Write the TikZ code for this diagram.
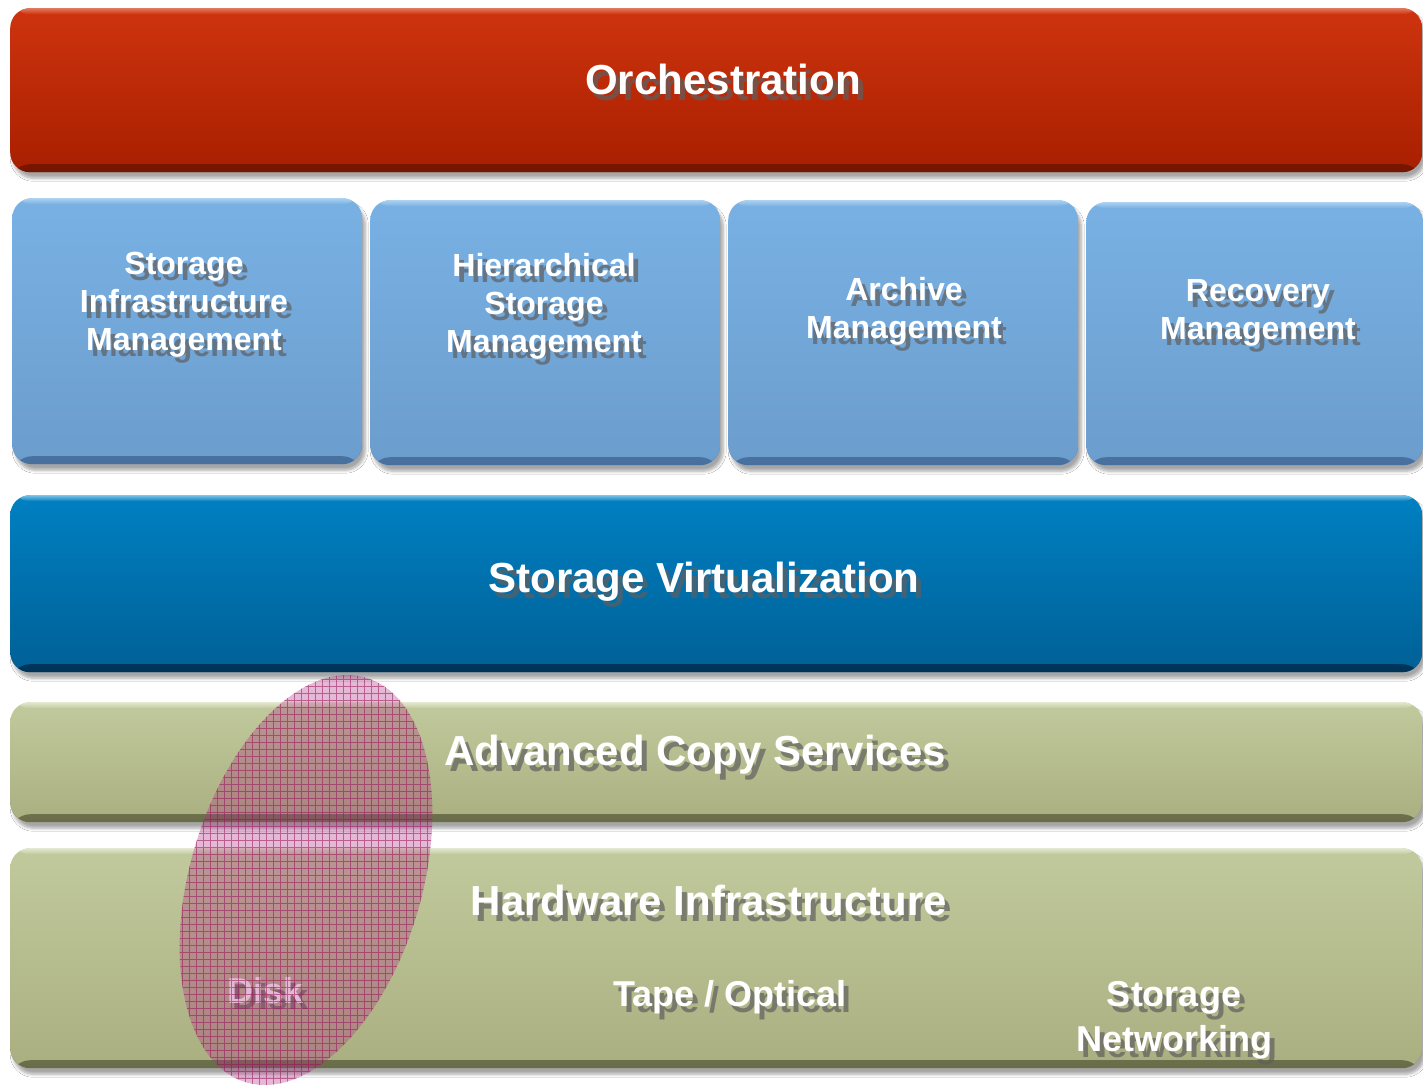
\documentclass[tikz,border=0pt]{standalone}
\usepackage{fontspec}
\setmainfont{Liberation Sans}
\usetikzlibrary{shapes.geometric,shadows.blur}

\definecolor{redT}{RGB}{206,52,14}
\definecolor{redB}{RGB}{168,31,0}
\definecolor{redR}{RGB}{115,22,0}
\definecolor{redH}{RGB}{225,120,95}
\definecolor{lbT}{RGB}{121,177,228}
\definecolor{lbB}{RGB}{107,157,205}
\definecolor{lbR}{RGB}{72,112,158}
\definecolor{lbH}{RGB}{170,210,240}
\definecolor{dbT}{RGB}{0,128,194}
\definecolor{dbB}{RGB}{0,96,150}
\definecolor{dbR}{RGB}{0,52,88}
\definecolor{dbH}{RGB}{125,195,232}
\definecolor{grT}{RGB}{193,202,157}
\definecolor{grB}{RGB}{170,175,128}
\definecolor{grR}{RGB}{105,108,72}
\definecolor{grH}{RGB}{228,232,208}
\definecolor{diskc}{RGB}{178,45,130}
\definecolor{gridc}{RGB}{150,20,90}
\definecolor{tshadow}{RGB}{95,95,95}

\tikzset{
  glossy/.style n args={4}{rectangle, rounded corners=20pt, inner sep=0pt,
    anchor=north west, top color=#1, bottom color=#2,
    blur shadow={shadow xshift=3pt, shadow yshift=-6pt, shadow blur radius=3pt,
      shadow blur steps=6, shadow opacity=35},
    path picture={
      \shade[top color=#2, bottom color=#3]
        ([yshift=8pt]path picture bounding box.south west) rectangle
        (path picture bounding box.south east);
      \shade[top color=#4, bottom color=#1]
        (path picture bounding box.north west) rectangle
        ([yshift=-6pt]path picture bounding box.north east);
    }},
  bigtxt/.style={text=white, font=\fontsize{42}{50}\selectfont\bfseries, inner sep=0pt},
  midtxt/.style={text=white, font=\fontsize{32}{38}\selectfont\bfseries, inner sep=0pt, align=center},
  hwtxt/.style={text=white, font=\fontsize{36}{45}\selectfont\bfseries, inner sep=0pt, align=center},
}

\newcommand\shadowed[4]{%
  \node[#3, text=tshadow, text opacity=0.7] at ([xshift=5pt,yshift=-6pt]#2) {#4};
  \node[#3] (#1) at (#2) {#4};}

\begin{document}
\begin{tikzpicture}[x=1pt,y=-1pt]
\useasboundingbox (0,0) rectangle (1423,1084);
\fill[white] (0,0) rectangle (1423,1084);
\clip (0,0) rectangle (1423,1084);

% bars and boxes
\node[glossy={redT}{redB}{redR}{redH}, minimum width=1412pt, minimum height=164pt] (orch) at (10,8) {};
\node[glossy={lbT}{lbB}{lbR}{lbH}, minimum width=350pt, minimum height=266pt] (sim) at (12,198) {};
\node[glossy={lbT}{lbB}{lbR}{lbH}, minimum width=350pt, minimum height=265pt] (hsm) at (370,200) {};
\node[glossy={lbT}{lbB}{lbR}{lbH}, minimum width=350pt, minimum height=265pt] (arch) at (728,200) {};
\node[glossy={lbT}{lbB}{lbR}{lbH}, minimum width=337pt, minimum height=263pt] (reco) at (1086,202) {};
\node[glossy={dbT}{dbB}{dbR}{dbH}, minimum width=1412pt, minimum height=177pt] (virt) at (10,495) {};
\node[glossy={grT}{grB}{grR}{grH}, minimum width=1412pt, minimum height=120pt] (copy) at (10,702) {};
\node[glossy={grT}{grB}{grR}{grH}, minimum width=1412pt, minimum height=220pt] (hw) at (10,848) {};

% texts
\shadowed{torch}{723,79}{bigtxt}{Orchestration}
\shadowed{tsim}{184,305}{midtxt}{Storage\\Infrastructure\\Management}
\shadowed{thsm}{544,306}{midtxt}{Hierarchical\\Storage\\Management}
\shadowed{tarch}{904,311}{midtxt}{Archive\\Management}
\shadowed{treco}{1258,313}{midtxt}{Recovery\\Management}
\shadowed{tvirt}{704,582}{bigtxt}{Storage Virtualization}
\shadowed{tcopy}{695,755}{bigtxt}{Advanced Copy Services}
\shadowed{thw}{709,900}{bigtxt}{Hardware Infrastructure}
\shadowed{tdisk}{266,991}{hwtxt}{Disk}
\shadowed{ttape}{730,997}{hwtxt}{Tape / Optical}
\shadowed{tnet}{1174,1020}{hwtxt}{Storage\\Networking}

% disk ellipse
\node[ellipse, minimum width=232pt, minimum height=422pt, inner sep=0pt, rotate=-16.5,
      fill=diskc, fill opacity=0.33] (disk) at (306,880) {};
\begin{scope}
  \clip[rotate around={-16.5:(306,880)}] (306,880) ellipse [x radius=116, y radius=211];
  \draw[gridc, line width=0.9pt, opacity=0.55] (168,660) grid[step=7pt] (446,1090);
\end{scope}
\end{tikzpicture}
\end{document}
